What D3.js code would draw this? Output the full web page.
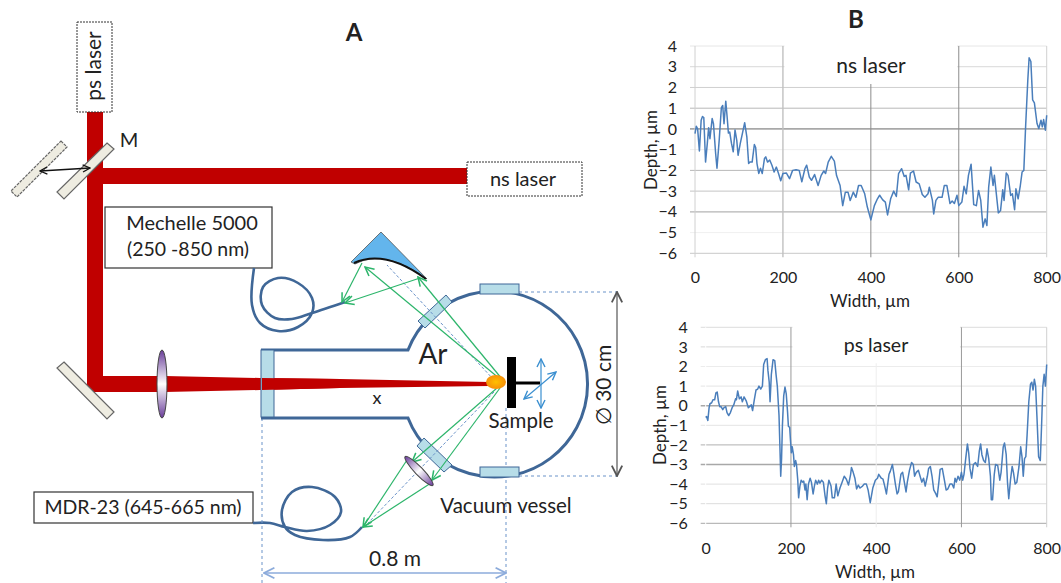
<!DOCTYPE html>
<html>
<head>
<meta charset="utf-8">
<script src="https://cdn.jsdelivr.net/npm/d3@7"></script>
<style>
  html, body { margin: 0; padding: 0; background: #fff; }
  svg { display: block; }
  text { font-family: Lato, "Open Sans", sans-serif; fill: #222; }
</style>
</head>
<body>
<div id="chart"></div>
<script>
// profile data (width in um, depth in um)
const nsWidth = [0,3,6,10,14,17,20,24,28,31,34,39,42,47,50,55,60,63,66,70,73,76,79,83,87,91,95,98,103,108,113,118,122,125,130,135,138,141,145,149,153,158,161,165,170,175,180,185,190,195,200,208,215,222,230,237,243,250,254,260,265,272,280,287,293,297,303,310,317,322,330,336,342,348,353,360,366,372,378,386,392,400,408,415,420,427,433,438,445,452,458,463,470,476,480,486,490,497,503,510,517,523,530,533,540,543,548,553,562,567,573,580,585,590,596,600,607,612,617,622,628,634,640,645,650,655,660,664,668,673,678,681,690,695,700,703,708,712,718,722,727,730,735,740,744,748,752,757,760,764,768,772,778,782,787,790,793,797,800];
const nsDepth = [-0.23,0.13,0,-1.06,0.42,0.6,0.55,-1.6,-0.7,0.06,-0.47,0.5,0.25,-1.2,-1.9,-0.55,1.03,1.13,0.25,1.34,0.6,-0.2,-0.15,-0.7,-1.1,-0.05,-0.55,-1.27,-0.7,-0.2,0.3,-0.4,-1.67,-1.6,-1.6,-0.75,-0.9,-1.67,-2.15,-1.9,-2.15,-1.43,-1.35,-1.6,-1.5,-1.75,-2.08,-1.84,-2.15,-2.5,-2.15,-2.13,-2.4,-2,-1.97,-2,-2.55,-1.92,-1.75,-2.32,-2.48,-2.2,-2.73,-2.24,-2.03,-2.15,-1.6,-1.32,-1.55,-2.25,-2.73,-3.7,-3.05,-3.05,-3.45,-3.05,-3.3,-2.73,-2.73,-3.13,-3.77,-4.39,-3.7,-3.37,-3.2,-3.42,-3.53,-4.15,-3.37,-3,-3.26,-2.16,-1.92,-2.29,-2.24,-2.94,-2.13,-2.03,-2.56,-2.65,-3.16,-3.3,-3.13,-2.81,-3.45,-4.1,-3.45,-3.3,-3.3,-2.73,-2.73,-3.6,-3.48,-3.6,-3.2,-3.7,-3.53,-2.77,-3.13,-2.24,-1.7,-3.65,-3.7,-2.97,-3.45,-4.74,-4.34,-4.66,-2.81,-1.84,-2.73,-2.24,-4.05,-3.94,-2.94,-3.45,-2.13,-2.24,-3.21,-3.13,-3.9,-2.89,-3.37,-2.73,-2.08,-2,0.1,2.35,3.43,3.25,1.4,1.26,0.26,0.02,0.42,0.1,0.45,-0.06,0.66];
const psWidth = [0,2,5,8,10,14,17,21,24,27,30,33,36,40,43,47,50,54,58,62,66,70,72,75,79,83,86,90,95,100,103,107,110,114,118,122,125,129,133,136,140,144,146,149,151,154,158,162,165,168,172,174,176,178,180,183,186,189,192,194,197,199,201,203,206,208,211,213,216,218,221,224,227,230,233,235,238,241,245,248,252,255,258,262,265,268,272,276,280,283,286,289,294,297,302,306,310,315,320,325,330,335,340,342,346,350,354,358,362,368,372,377,381,386,388,392,398,403,406,412,416,420,424,430,433,438,441,445,449,452,458,462,466,470,473,478,483,487,490,494,499,503,507,511,515,520,523,527,531,535,540,543,547,550,555,560,564,568,573,578,582,585,588,592,596,600,603,606,610,614,617,620,624,628,633,638,642,645,648,652,656,660,664,668,670,673,677,680,685,690,693,698,701,705,708,711,715,719,722,726,730,735,739,742,745,748,751,754,758,762,765,768,771,774,777,781,785,788,791,794,797,800];
const psDepth = [-0.6,-0.55,-0.75,-0.1,0.1,0.15,0.3,0.3,0.65,0.7,0.2,-0.05,-0.05,-0.2,-0.1,-0.05,-0.35,-0.5,-0.35,-0.1,0.05,0.35,0.3,0.75,0.35,0.45,0.2,0.45,0.25,-0.1,-0.05,0.05,-0.25,0.3,0.8,0.85,1,0.85,1,2.1,2.35,2.4,1.8,1.2,0.2,1.6,2.35,2.3,1.6,1,-0.5,-2,-3.6,-2.7,-1,0.5,0.95,0.6,-0.3,-1.05,-1.1,-1.8,-2.4,-2.1,-2.5,-3.1,-2.8,-3,-3.8,-4.7,-4.1,-3.8,-3.9,-3.85,-4.3,-4,-4.8,-4,-3.7,-3.9,-4.5,-4.1,-3.8,-4,-3.8,-3.95,-3.8,-3.9,-4.6,-5,-4.2,-3.8,-4.1,-4.7,-4.7,-4,-4.6,-4.2,-3.9,-3.6,-3.75,-4.05,-3.5,-3.15,-3.4,-3.7,-4.25,-4.05,-4.2,-4.1,-4,-4,-4.3,-4.95,-4.7,-4.2,-3.8,-3.7,-3.5,-3.7,-3.75,-4.1,-4.5,-3.5,-3.35,-3,-3.4,-4,-4.5,-4.4,-3.5,-3.4,-3.9,-4.4,-3.9,-3.3,-2.9,-3,-3.6,-3.4,-3.3,-3.6,-3.9,-3.7,-4.1,-3.6,-3.2,-3.1,-3.6,-4.3,-4.5,-4.65,-3.9,-3.25,-3.2,-3.8,-4.3,-4.25,-4,-4,-4.2,-3.7,-3.9,-3.6,-3.8,-3.4,-3.8,-3.5,-2.7,-1.95,-2.4,-3.2,-3.7,-3,-2.9,-3.1,-2.3,-1.95,-2.5,-2.8,-2.9,-2.2,-2.7,-3.6,-4.8,-4.8,-3.5,-3,-3.05,-3.8,-3.4,-2.1,-1.9,-2.5,-3.9,-4.75,-3.8,-3.1,-3.4,-4,-3.9,-3.1,-2.1,-2.6,-3.6,-2.7,-2.6,-1.5,0.2,1.1,1.2,0.8,1.35,1,-0.5,-2.6,-2.8,-1,1,1.6,1,2.1];
const yTicks = [4,3,2,1,0,-1,-2,-3,-4,-5,-6];
const xTicks = [0,200,400,600,800];

const W = 1061, H = 583;
const svg = d3.select('#chart').append('svg').attr('width', W).attr('height', H);

// gradients for lens and plasma
const defs = svg.append('defs');
const lensGrad = defs.append('linearGradient').attr('id', 'lens').attr('x1', 0).attr('y1', 0).attr('x2', 0).attr('y2', 1);
lensGrad.append('stop').attr('offset', '0%').attr('stop-color', '#6a3d9a');
lensGrad.append('stop').attr('offset', '50%').attr('stop-color', '#ffffff');
lensGrad.append('stop').attr('offset', '100%').attr('stop-color', '#6a3d9a');
const plasmaGrad = defs.append('radialGradient').attr('id', 'plasma');
plasmaGrad.append('stop').attr('offset', '0%').attr('stop-color', '#ffc000');
plasmaGrad.append('stop').attr('offset', '100%').attr('stop-color', '#f79009');

function arrowMarker(id, color, size) {
    defs.append('marker').attr('id', id)
        .attr('viewBox', '0 0 10 10').attr('refX', 9).attr('refY', 5)
        .attr('markerWidth', size).attr('markerHeight', size)
        .attr('markerUnits', 'userSpaceOnUse').attr('orient', 'auto-start-reverse')
        .append('path').attr('d', 'M1,1 L9,5 L1,9')
        .style('fill', 'none').style('stroke', color).style('stroke-width', 1.4);
}
arrowMarker('aGreen', '#2db56b', 11);
arrowMarker('aBlue', '#3a8fd0', 10);
arrowMarker('aBlack', '#111', 9);
arrowMarker('aGray', '#555', 13);
arrowMarker('aPale', '#8cabdb', 13);

const label = (x, y, s, size) => svg.append('text').attr('x', x).attr('y', y).attr('text-anchor', 'middle')
    .style('font-size', size + 'px').text(s);
const seg = (x1, y1, x2, y2, color, w, dash, marker) => {
    const l = svg.append('line').attr('x1', x1).attr('y1', y1).attr('x2', x2).attr('y2', y2)
        .style('stroke', color).style('stroke-width', w);
    if (dash) l.style('stroke-dasharray', dash);
    if (marker) l.attr('marker-end', `url(#${marker})`);
    return l;
};
const dbl = (x1, y1, x2, y2, color, w, marker) => seg(x1, y1, x2, y2, color, w)
    .attr('marker-start', `url(#${marker})`).attr('marker-end', `url(#${marker})`);
const poly = (pts, fill, stroke, w) => svg.append('polygon').attr('points', pts.join(' '))
    .style('fill', fill).style('stroke', stroke || 'none').style('stroke-width', w || 1);
const curve = d3.line().curve(d3.curveCatmullRom.alpha(0.5));

// ---- panel A ----
const RED = '#c00000', STEEL = '#3f6797', GLASS = '#b7dde8', MIRROR = '#eeece1', GREEN = '#2db56b', DASH = '#6b93c9';

// beams
poly(['87,112', '103,112', '103,376', '87,392'], RED);
svg.append('rect').attr('x', 95).attr('y', 168).attr('width', 372).attr('height', 16).style('fill', RED);
poly(['87,376', '165,376', '260,378', '340,379', '490,382', '490,386', '340,388', '260,390', '165,392', '87,392'], RED);

// mirrors
const mirrorStroke = '#666';
poly(['107,143', '114,149', '64,199', '57,192'], MIRROR, mirrorStroke, 1.2);
poly(['61,141', '67,147', '17,197', '11,191'], MIRROR, mirrorStroke, 1.2).style('stroke-dasharray', '3,1');
poly(['64,362', '114,412', '107,419', '57,368'], MIRROR, mirrorStroke, 1.2);
dbl(40, 171, 90, 168, '#111', 1.4, 'aBlack');
label(129, 147, 'M', 20);

// laser boxes
svg.append('rect').attr('x', 77).attr('y', 22).attr('width', 35).attr('height', 90)
    .style('fill', '#fff').style('stroke', '#333').style('stroke-dasharray', '2,1');
svg.append('text').attr('transform', 'translate(101,66) rotate(-90)').attr('text-anchor', 'middle')
    .style('font-size', '21px').text('ps laser');
svg.append('rect').attr('x', 467).attr('y', 162).attr('width', 115).attr('height', 34)
    .style('fill', '#fff').style('stroke', '#333').style('stroke-dasharray', '2,1');
label(523, 186, 'ns laser', 20);

// spectrometer boxes
svg.append('rect').attr('x', 105).attr('y', 207).attr('width', 167).attr('height', 61)
    .style('fill', '#fff').style('stroke', '#333').style('stroke-width', 1.2);
label(192, 230, 'Mechelle 5000', 20);
label(188, 256, '(250 -850 nm)', 19.5);
svg.append('rect').attr('x', 34).attr('y', 492).attr('width', 219).attr('height', 31)
    .style('fill', '#fff').style('stroke', '#333').style('stroke-width', 1.2);
label(143, 514, 'MDR-23 (645-665  nm)', 19.5);

// fibres
svg.append('path')
    .attr('d', curve([[254,268],[252,305],[260,323],[278,331],[298,327],[312,313],[312,298],[298,283],[278,278],[263,287],[262,305],[275,318],[292,319],[312,313],[345,302]]))
    .style('fill', 'none').style('stroke', STEEL).style('stroke-width', 2.6);
svg.append('path')
    .attr('d', curve([[253,523],[270,523],[285,527],[307,531],[330,525],[341,512],[335,497],[312,487],[292,492],[282,510],[285,527],[295,535],[323,540],[350,537],[362,527]]))
    .style('fill', 'none').style('stroke', STEEL).style('stroke-width', 2.6);

// dashed guide lines
seg(262, 418, 262, 583, DASH, 1, '3,3');
seg(506, 408, 506, 583, DASH, 1, '3,3');
seg(519, 292, 620, 292, DASH, 1, '3,3');
seg(519, 476, 620, 476, DASH, 1, '3,3');

// vessel
svg.append('path').attr('d', 'M261,350 L408,350 A93,93 0 1 1 408,418 L261,418')
    .style('fill', 'none').style('stroke', STEEL).style('stroke-width', 3);
svg.append('rect').attr('x', 261).attr('y', 350).attr('width', 13).attr('height', 67)
    .style('fill', GLASS).style('stroke', STEEL);
svg.append('rect').attr('x', 480).attr('y', 284).attr('width', 39).attr('height', 10)
    .style('fill', GLASS).style('stroke', STEEL);
svg.append('rect').attr('x', 480).attr('y', 467).attr('width', 39).attr('height', 10)
    .style('fill', GLASS).style('stroke', STEEL);
poly(['446,295', '452,302', '425,328', '418,321'], GLASS, STEEL);
poly(['424,438', '452,465', '444,472', '417,446'], GLASS, STEEL);

// re-draw the beam over the window
poly(['262,378', '340,379', '340,388', '262,390'], RED);

// parabolic mirror
svg.append('path').attr('d', 'M381,232 L351,262 L355,264 Q385,248 427,279 Z')
    .style('fill', '#63b5ec').style('stroke', '#555').style('stroke-width', 0.8);
svg.append('path').attr('d', 'M354,263 Q385,249 426,279').style('fill', 'none')
    .style('stroke', '#111').style('stroke-width', 2);

// optical rays, upper arm
seg(494, 380, 387, 265, DASH, 1, '3,2');
seg(502, 379, 418, 277, GREEN, 1.2, null, 'aGreen');
seg(500, 379, 365, 267, GREEN, 1.2, null, 'aGreen');
seg(362, 263, 342, 302, GREEN, 1.2, null, 'aGreen');
seg(420, 278, 345, 303, GREEN, 1.2, null, 'aGreen');

// optical rays, lower arm
seg(494, 392, 368, 523, DASH, 1, '3,2');
seg(497, 388, 412, 462, GREEN, 1.2, null, 'aGreen');
seg(500, 388, 432, 480, GREEN, 1.2, null, 'aGreen');
seg(407, 460, 363, 527, GREEN, 1.2, null, 'aGreen');
seg(431, 483, 363, 527, GREEN, 1.2, null, 'aGreen');

// lenses
svg.append('ellipse').attr('cx', 162).attr('cy', 384).attr('rx', 5).attr('ry', 34)
    .style('fill', 'url(#lens)').style('stroke', '#444');
svg.append('ellipse').attr('cx', 0).attr('cy', 0).attr('rx', 4).attr('ry', 20)
    .attr('transform', 'translate(419,471) rotate(-44)')
    .style('fill', 'url(#lens)').style('stroke', '#444');

// plasma and sample
svg.append('ellipse').attr('cx', 496).attr('cy', 382).attr('rx', 10).attr('ry', 7).style('fill', 'url(#plasma)');
svg.append('rect').attr('x', 507).attr('y', 357).attr('width', 9).attr('height', 51).style('fill', '#000');
seg(516, 383, 540, 383, '#000', 3);
dbl(541, 359, 541, 408, '#3a8fd0', 1.2, 'aBlue');
dbl(524, 399, 556, 372, '#3a8fd0', 1.2, 'aBlue');

// dimensions
dbl(617, 292, 617, 476, '#555', 1.2, 'aGray');
dbl(264, 573, 506, 573, '#8cabdb', 1.4, 'aPale');
svg.append('text').attr('transform', 'translate(611,385) rotate(-90)').attr('text-anchor', 'middle')
    .style('font-size', '21px').text('\u2205 30 cm');
label(395, 566, '0.8 m', 21);
label(433, 364, 'Ar', 28);
label(377, 404, 'x', 18);
label(521, 428, 'Sample', 20.5);
label(506, 513, 'Vacuum vessel', 20.5);
label(354, 41, 'A', 24).style('font-weight', 'bold');
label(856, 28, 'B', 24).style('font-weight', 'bold');

// ---- panel B ----
function profile(opts) {
    const x = d3.scaleLinear().domain([0, 800]).range(opts.xRange);
    const y = d3.scaleLinear().domain([-6, 4]).range(opts.yRange);
    const g = svg.append('g');

    // horizontal grid
    g.selectAll('line.h').data(yTicks).enter().append('line').attr('class', 'h')
        .attr('x1', opts.xRange[0] - 5).attr('x2', opts.xRange[1])
        .attr('y1', d => y(d)).attr('y2', d => y(d))
        .style('stroke', (d, i) => opts.hColor[i])
        .style('stroke-width', (d, i) => opts.hWidth[i]);
    // vertical grid
    g.selectAll('line.v').data(xTicks).enter().append('line').attr('class', 'v')
        .attr('x1', d => x(d)).attr('x2', d => x(d))
        .attr('y1', opts.yRange[1]).attr('y2', opts.yRange[0] + 4)
        .style('stroke', (d, i) => opts.vColor[i])
        .style('stroke-width', (d, i) => opts.vWidth[i]);

    // white box behind the caption hides the grid
    g.append('rect').attr('x', x(200) + 1.5).attr('y', opts.yRange[1] - 2)
        .attr('width', x(600) - x(200) - 3).attr('height', opts.maskH).style('fill', '#fff');
    g.append('text').attr('x', opts.capX).attr('y', opts.capY).attr('text-anchor', 'middle')
        .style('font-size', opts.capSize + 'px').text(opts.caption);

    const yAxis = d3.axisLeft(y).tickValues(yTicks).tickSize(0).tickPadding(opts.yPad).tickFormat(d3.format('d'));
    const xAxis = d3.axisBottom(x).tickValues(xTicks).tickSize(0).tickPadding(opts.xPad);
    const gy = g.append('g').attr('transform', `translate(${opts.xRange[0]},0)`).call(yAxis);
    const gx = g.append('g').attr('transform', `translate(0,${opts.yRange[0]})`).call(xAxis);
    gy.select('.domain').remove();
    gx.select('.domain').remove();
    g.selectAll('.tick text').style('font-size', '16px').style('font-family', 'Lato, sans-serif').style('fill', '#222');

    const line = d3.line().x((d, i) => x(opts.width[i])).y(d => y(d));
    g.append('path').datum(opts.depth).attr('d', line)
        .style('fill', 'none').style('stroke', '#4a7ebb').style('stroke-width', 1.5).style('stroke-linejoin', 'round');

    g.append('text').attr('transform', `translate(${opts.yLabelX},${opts.yLabelY}) rotate(-90)`)
        .attr('text-anchor', 'middle').style('font-size', '17px').text('Depth, \u00b5m');
    g.append('text').attr('x', opts.xLabelX).attr('y', opts.xLabelY)
        .attr('text-anchor', 'middle').style('font-size', '17px').text('Width, \u00b5m');
}

profile({
    width: nsWidth, depth: nsDepth, caption: 'ns laser', capX: 871, capY: 73, capSize: 21,
    xRange: [695, 1046.7], yRange: [253.3, 46], maskH: 40, yPad: 18, xPad: 18,
    hColor: ['#e6e6e6','#d8d8d8','#cfcfcf','#b8b8b8','#a8a8a8','#eeeeee','#b8b8b8','#c4c4c4','#b4b4b4','#f0f0f0','#c8c8c8'],
    hWidth: [1,1,1,1,1.6,1,1,1,1.4,1,1],
    vColor: ['#d0d0d0','#c0c0c0','#8c8c8c','#8c8c8c','#d0d0d0'], vWidth: [1,1.4,1,1,1],
    yLabelX: 657, yLabelY: 150, xLabelX: 870, xLabelY: 307
});

profile({
    width: psWidth, depth: psDepth, caption: 'ps laser', capX: 876, capY: 352, capSize: 19.5,
    xRange: [705.7, 1046.7], yRange: [523.3, 327.3], maskH: 38, yPad: 18, xPad: 19,
    hColor: ['#dcdcdc','#d8d8d8','#ececec','#e4e4e4','#a8a8a8','#e4e4e4','#b0b0b0','#a8a8a8','#e0e0e0','#dcdcdc','#a8a8a8'],
    hWidth: [1,1,1,1,1.4,1,1,1.4,1,1,1],
    vColor: ['#ffffff','#9a9a9a','#eeeeee','#9a9a9a','#d0d0d0'], vWidth: [1,1,1,1,1],
    yLabelX: 666, yLabelY: 425, xLabelX: 875, xLabelY: 578
});
</script>
</body>
</html>
